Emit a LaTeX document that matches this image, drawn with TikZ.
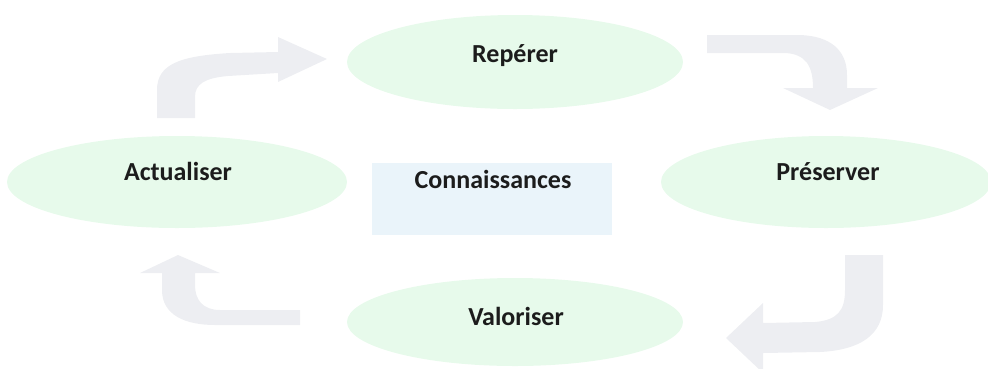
\documentclass[tikz,border=0pt]{standalone}
\usepackage{fontspec}
\setmainfont{Carlito}
\usetikzlibrary{shapes.geometric}
\definecolor{ellfill}{RGB}{231,250,235}
\definecolor{boxfill}{RGB}{234,244,250}
\definecolor{arrfill}{RGB}{237,238,242}
\definecolor{txt}{RGB}{28,28,28}
\tikzset{
  ell/.style={ellipse, fill=ellfill, draw=none, inner sep=0pt},
  lbl/.style={anchor=base, text=txt, font=\fontsize{26}{30}\selectfont\bfseries, inner sep=0pt},
  blockarrow/.style={fill=arrfill, draw=none}
}
\begin{document}
\begin{tikzpicture}[x=1pt, y=-1pt]
\useasboundingbox (0,0) rectangle (988,368);
% ellipses
\node[ell, minimum width=336pt, minimum height=94pt] (rep) at (515,62) {};
\node[ell, minimum width=340pt, minimum height=92pt] (act) at (177,182) {};
\node[ell, minimum width=330pt, minimum height=92pt] (pre) at (826,182) {};
\node[ell, minimum width=336pt, minimum height=88pt] (val) at (515,322) {};
% central box
\node[fill=boxfill, minimum width=240pt, minimum height=72pt, inner sep=0pt] (con) at (492,199) {};
% labels
\node[lbl] (trep) at (515,62) {Repérer};
\node[lbl] (tact) at (178,180) {Actualiser};
\node[lbl] (tpre) at (828,180) {Préserver};
\node[lbl] (tval) at (516,325) {Valoriser};
\node[lbl] (tcon) at (493,188) {Connaissances};
% arrow Actualiser -> Repérer
\fill[blockarrow] (157,118) -- (157,90) .. controls (157,64) and (180,56) .. (230,53) -- (278,52)
  -- (278,37) -- (327,59) -- (278,82) -- (278,73) -- (228,76)
  .. controls (205,78) and (195,84) .. (195,97) -- (195,118) -- cycle;
% arrow Repérer -> Préserver
\fill[blockarrow] (707,35) -- (800,35) .. controls (830,36) and (847,50) .. (847,75) -- (847,88)
  -- (878,88) -- (830,110) -- (783,88) -- (813,88)
  .. controls (813,65) and (805,54) .. (785,53) -- (707,53) -- cycle;
% arrow Préserver -> Valoriser
\fill[blockarrow] (845,255) -- (883,255) -- (883,305) .. controls (883,335) and (860,350) .. (820,352)
  -- (763,353) -- (763,373) -- (726,338) -- (763,303) -- (763,323) -- (815,322)
  .. controls (838,320) and (845,310) .. (845,290) -- cycle;
% arrow Valoriser -> Actualiser
\fill[blockarrow] (300,310) -- (220,310) .. controls (203,310) and (195,300) .. (195,285) -- (195,273)
  -- (220,273) -- (178,255) -- (140,273) -- (162,273) -- (162,290)
  .. controls (162,315) and (185,325) .. (215,325) -- (300,325) -- cycle;
\end{tikzpicture}
\end{document}
